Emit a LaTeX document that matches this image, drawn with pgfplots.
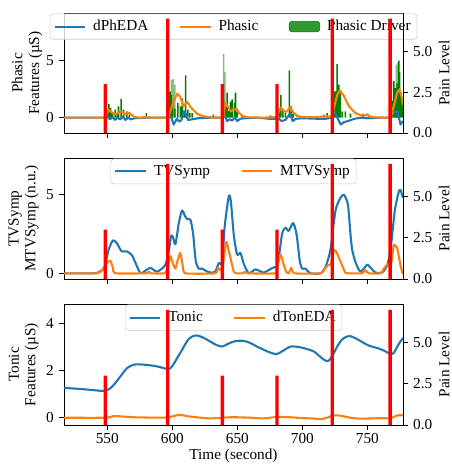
\documentclass[border=0pt]{standalone}
\usepackage{fontspec}
\setmainfont{Liberation Serif}
\usepackage{pgfplots}
\pgfplotsset{compat=1.18}

\definecolor{mblue}{HTML}{1F77B4}
\definecolor{morange}{HTML}{FF7F0E}
\definecolor{mgreen}{HTML}{008000}

\pgfplotsset{
  base/.style={
    scale only axis, width=244.08pt,
    xmin=516.7, xmax=777.4,
    xtick={550,600,650,700,750},
    tick align=outside, major tick length=3.5pt,
    tick style={line width=0.6pt, black},
    axis line style={line width=0.6pt},
    /pgf/number format/assume math mode=true,
    clip=true,
  },
  leftax/.style={base,
    xtick pos=bottom, ytick pos=left,
    xticklabel style={yshift=1.5pt},
    ylabel style={align=center, font=\fontsize{11pt}{12pt}\selectfont, anchor=center},
    legend style={at={(0.5,0.995)}, anchor=north, draw=black!20, rounded corners=2pt,
      fill=white, fill opacity=0.8, text opacity=1, inner sep=2.5pt,
      /tikz/every even column/.append style={column sep=20pt},
      /tikz/every odd column/.append style={column sep=3pt}},
    legend cell align=left,
    legend image code/.code={\draw[#1, line width=1.5pt] (0pt,0pt) -- (22pt,0pt);},
  },
  rightax/.style={base,
    axis x line=none, axis y line*=right,
    ymin=0, ymax=7.35, ytick={0,2.5,5},
    yticklabel style={/pgf/number format/.cd, fixed, fixed zerofill, precision=1},
    ylabel={Pain Level},
    ylabel style={at={(axis description cs:1.121,0.5)}, anchor=center},
  },
  curve/.style={line width=1.5pt, line join=round},
}

\begin{document}
\fontsize{11pt}{13pt}\selectfont
\begin{tikzpicture}
\useasboundingbox (0,0) rectangle (324.72pt,-336.24pt);

% ---------- panel 1 ----------
\begin{axis}[leftax, at={(46.08pt,-9.36pt)}, anchor=north west, height=86.4pt,
  ymin=-1.345, ymax=9.18, ytick={0,5}, xticklabels={},
  ylabel={Phasic\\Features (µS)}, ylabel style={at={(axis description cs:-0.109,0.5)}},
  legend columns=3]
\addlegendimage{mblue}
\addlegendimage{morange}
\addlegendimage{legend image code/.code={\fill[mgreen] (0pt,-3.8pt) rectangle (22pt,3.8pt);}}
\legend{dPhEDA, Phasic, Phasic Driver}
% Phasic driver (dark)
\addplot[ybar, bar width=1.2, fill=mgreen, draw=none, forget plot] coordinates {
(550.5,0.5) (551.2,1.2) (552.5,0.85) (554,0.4) (556,0.7) (557.5,0.3) (558.6,1.0) (560.6,1.64)
(562.6,0.7) (565,0.55) (567,0.3) (580,0.4)
(598.2,2.3) (599.3,2.0) (600.3,1.2) (602,0.8) (604.3,1.3) (606.3,1.0) (607.7,1.7) (609,0.6)
(610.3,3.7) (612,0.7) (613.5,0.4) (615.3,0.4) (631.5,0.26)
(639.5,1.5) (641,1.0) (642.2,2.2) (643.5,0.6) (644.7,1.4) (646,1.6) (647.8,1.3) (648.6,2.2)
(650,0.5) (653.7,0.26) (675.5,0.2)
(682.5,0.6) (683.5,2.0) (685,0.8) (687,0.4) (690,4.15) (691.6,1.0) (693,0.3)
(716.5,0.26) (719,0.4) (723.8,1.5) (724.7,2.3) (725.5,2.3) (726.8,4.7) (728.1,2.9) (729,2.3)
(730.6,0.55) (733.1,0.55) (737,0.35) (746.8,0.35)
(769.5,1.5) (770.3,3.2) (771.6,2.6) (772.9,3.0) (774.2,5.0) (774.7,4.0) (776,2.2) (777,1.3)
};
% Phasic driver (light)
\addplot[ybar, bar width=1.2, fill=mgreen, fill opacity=0.5, draw=none, forget plot] coordinates {
(599.5,3.3) (600.6,3.4) (602,2.9) (639.5,5.6) (640.3,4.0) (772.4,4.6) (773.2,4.8)
};
% dPhEDA
\addplot[curve, mblue, forget plot] coordinates {
(516.7,0) (548,0) (550,0.1) (552,-0.15) (554,0.05) (556,-0.2) (558,0.0) (560,-0.15) (562,0.1)
(564,-0.2) (566,0) (568,-0.15) (571,-0.05) (580,0) (597,0) (599,0.1) (601,-0.6) (603.5,-0.1)
(605.5,-0.35) (607,-0.2) (609,0.55) (610.5,0.3) (612,-0.2) (615,-0.15) (620,-0.05) (630,0)
(639,0) (640.5,0.3) (642,-0.3) (644,-0.15) (646,-0.25) (648,0.0) (650,-0.3) (652,-0.1)
(656,-0.05) (665,0) (675,-0.1) (682,-0.1) (684,-0.3) (687,-0.2) (690.8,0.4) (692.5,-0.3)
(695,-0.1) (700,-0.05) (712,-0.1) (718,-0.1) (722,0) (724.5,0.55) (726,0.2) (729.5,-0.6)
(732,-0.4) (735,-0.3) (740,-0.1) (745,0) (750,-0.05) (760,0) (768,0) (770,0.4) (773,0.6)
(775.5,-0.6) (777.4,-0.3)
};
% Phasic
\addplot[curve, morange, forget plot] coordinates {
(516.7,0) (548,0) (549.5,0.3) (551,0.7) (553,0.5) (556,0.3) (559,0.45) (561.4,0.55) (563.5,0.3)
(566.5,0.45) (568.5,0.25) (571,0.05) (575,0) (581,0.05) (585,0) (597,0) (598.5,0.6) (601,1.4)
(603.7,2.1) (606,1.85) (608.5,1.0) (611.4,1.4) (613,1.1) (615,0.8) (619,0.35) (623,0.15)
(627,0.06) (632,0) (639,0) (640.8,1.3) (643,0.9) (645,0.55) (647,0.7) (649.5,0.75) (651.5,0.4)
(654,0.15) (658,0.03) (670,0) (680,0.05) (683.2,0.85) (686,0.6) (687.5,0.5) (690.8,0.9)
(693,0.45) (696,0.15) (700,0.05) (710,0.05) (719,0.12) (722,0.05) (724,0.7) (726.8,2.0)
(728.8,2.4) (731.9,1.9) (735.8,1.0) (740.8,0.4) (745,0.2) (748,0.18) (749.5,0.3) (752,0.1)
(756,0.02) (768,0) (770.3,1.0) (772.9,2.2) (774.7,2.5) (776.8,1.6) (777.4,1.1)
};
\end{axis}
\begin{axis}[rightax, at={(46.08pt,-9.36pt)}, anchor=north west, height=86.4pt]
\addplot[ybar, bar width=2.6, fill=red, draw=none] coordinates {
(548.5,3) (596.5,7) (638.5,3) (680.5,3) (723,7) (767.5,7)};
\end{axis}

% ---------- panel 2 ----------
\begin{axis}[leftax, at={(46.08pt,-113.76pt)}, anchor=north west, height=87.1pt,
  ymin=-0.36, ymax=7.34, ytick={0,5}, xticklabels={},
  ylabel={TVSymp\\MTVSymp (n.u.)}, ylabel style={at={(axis description cs:-0.119,0.5)}},
  legend columns=2]
\addplot[curve, mblue, smooth, tension=0.4] coordinates {
(516.7,0) (540,0) (545,0.15) (548,0.4) (551,1.5) (554.4,2.1) (557.5,1.9) (561,1.4) (565,1.4)
(569,1.15) (572,0.6) (575.5,0) (579,0.15) (583,0.35) (588,0.1) (592,0.3) (595,0.6) (597.5,1.5)
(599,2.4) (600.5,2.3) (602.4,1.85) (605,3.2) (607.5,4.0) (610,3.6) (611.5,3.45) (614,3.4)
(616,2.5) (618,0.8) (620.3,0.3) (623,0.3) (626,0.15) (629.3,0.05) (633,0.1) (635.7,0.65)
(638.3,0.7) (640.3,3.0) (643.4,4.9) (645,4.6) (647.2,2.5) (649.8,1.2) (652.4,1.3) (655,0.6)
(658.8,0) (664,0.25) (670.3,0.05) (676,0.3) (679,0.4) (681,0.5) (684.4,2.5) (687,2.9)
(689.5,2.7) (692.9,3.2) (695.5,2.5) (698,0.8) (699.8,0.3) (702.3,0.3) (706.2,0) (713.9,0)
(717.8,0.4) (721.6,1.5) (725.5,4.0) (729.3,4.8) (731.9,5.0) (735,4.4) (737,2.5) (738.3,1.5)
(740.9,0.7) (744.7,0.1) (749.8,0.55) (752,0.4) (756.2,0.05) (761.3,0.05) (765.2,0.5)
(767.8,1.5) (771.1,4.0) (774.2,5.2) (775.5,5.3) (777.4,4.8)
};
\addplot[curve, morange, smooth, tension=0.3] coordinates {
(516.7,0) (542,0) (546,0.2) (549,0.6) (552.4,0.8) (554.5,0.3) (556,0) (580,0) (582,0.1) (584,0)
(594,0) (596,0.3) (598.5,1.1) (600.5,0.6) (602.4,0.3) (604,0.8) (606.2,1.3) (608,0.5) (610,0)
(633,0) (635,0.35) (637,0.2) (638.5,0.3) (641.4,2.0) (643.5,1.4) (644.7,1.0) (647.2,0.1)
(649,0) (654,0) (656,0.1) (658,0) (679,0) (680.5,0.4) (683.2,1.2) (685.5,0.6) (687.5,0.1)
(689.5,0) (691.5,0.35) (694,0) (714,0) (716.5,0.2) (719.5,0.5) (722,0.6) (724.5,1.5)
(726.5,1.3) (729.3,0.75) (733,0.05) (735.8,0) (746,0) (748.5,0.2) (751,0) (760,0)
(762.7,0.3) (765.2,0.55) (768.5,0.7) (770.3,1.8) (772.9,1.6) (775.5,0.5) (777,0) (777.4,0)
};
\legend{TVSymp, MTVSymp}
\end{axis}
\begin{axis}[rightax, at={(46.08pt,-113.76pt)}, anchor=north west, height=87.1pt]
\addplot[ybar, bar width=2.6, fill=red, draw=none] coordinates {
(548.5,3) (596.5,7) (638.5,3) (680.5,3) (723,7) (767.5,7)};
\end{axis}

% ---------- panel 3 ----------
\begin{axis}[leftax, at={(46.08pt,-218.88pt)}, anchor=north west, height=87.1pt,
  ymin=-0.31, ymax=4.84, ytick={0,2,4},
  ylabel={Tonic\\Features (µS)}, ylabel style={at={(axis description cs:-0.119,0.5)}},
  xlabel={Time (second)}, xlabel style={yshift=3.5pt}, legend columns=2]
\addplot[curve, mblue, smooth, tension=0.5] coordinates {
(516.7,1.27) (530,1.22) (540,1.17) (547.5,1.14) (551,1.2) (555,1.4) (560,1.75) (565,2.1)
(570,2.25) (575,2.27) (585.7,2.21) (593,2.12) (597,2.07) (600,2.2) (606,2.75) (612.6,3.35)
(617.8,3.5) (622,3.45) (626.8,3.32) (633,3.12) (638.3,3.03) (643,3.15) (648.5,3.26)
(654.9,3.27) (660,3.18) (665,3.03) (670,2.9) (675,2.78) (680.3,2.71) (686,2.88) (691,3.03)
(698,3.0) (703.7,2.92) (708.8,2.82) (712.6,2.65) (716.5,2.47) (719.5,2.41) (721.5,2.5)
(724.2,2.75) (727,3.05) (730.6,3.33) (734.4,3.46) (737,3.47) (742,3.35) (747.2,3.18)
(752,3.05) (757.5,2.97) (763,2.85) (767.8,2.71) (770.5,2.77) (773,3.03) (775.5,3.25) (777.4,3.39)
};
\addplot[curve, morange, smooth, tension=0.5] coordinates {
(516.7,0) (548,0) (555,0.07) (562,0.05) (570,0.02) (590,0) (597,0.02) (601,0.07) (606,0.12)
(611,0.07) (618,0.02) (630,-0.03) (645,0.02) (660,0) (670,-0.03) (680,0.03) (690,0.02)
(700,-0.02) (708,-0.03) (714,-0.06) (719,0.0) (724,0.1) (730,0.08) (737,0) (745,-0.04)
(760,-0.02) (768,-0.02) (773,0.1) (777.4,0.1)
};
\legend{Tonic, dTonEDA}
\end{axis}
\begin{axis}[rightax, at={(46.08pt,-218.88pt)}, anchor=north west, height=87.1pt]
\addplot[ybar, bar width=2.6, fill=red, draw=none] coordinates {
(548.5,3) (596.5,7) (638.5,3) (680.5,3) (723,7) (767.5,7)};
\end{axis}
\end{tikzpicture}
\end{document}
